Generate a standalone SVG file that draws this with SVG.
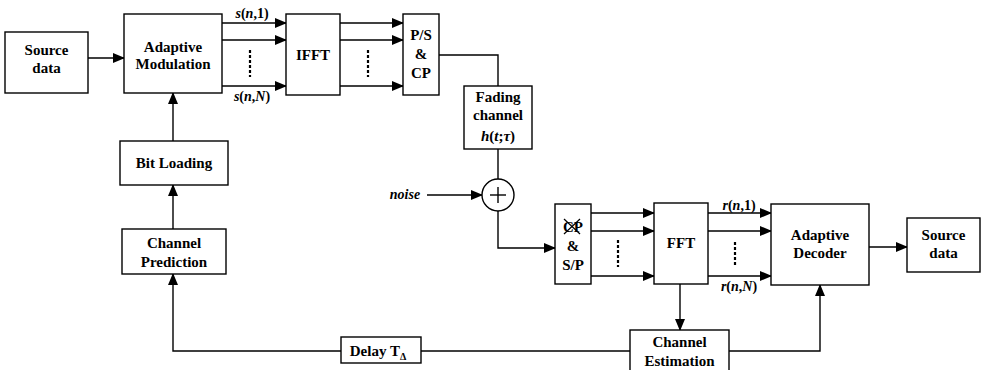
<svg xmlns="http://www.w3.org/2000/svg" width="983" height="370" viewBox="0 0 983 370">
<style>
.box{fill:#fff;stroke:#000;stroke-width:1.4}
.t{font-family:'Liberation Serif','DejaVu Serif','Times New Roman',serif;font-weight:700;font-size:15px;text-anchor:middle;fill:#000}
.lb{font-family:'Liberation Serif','DejaVu Serif','Times New Roman',serif;font-weight:700;font-size:14px;text-anchor:middle;fill:#000}
.ln{fill:none;stroke:#000;stroke-width:1.4}
.dot{fill:none;stroke:#000;stroke-width:2.2;stroke-dasharray:3 2}
</style>
<defs>
<marker id="ar" markerWidth="12" markerHeight="10" refX="11" refY="5" orient="auto" markerUnits="userSpaceOnUse">
<path d="M0,0 L12,5 L0,10 Z" fill="#000"/>
</marker>
</defs>
<rect width="983" height="370" fill="#fff"/>
<g id="connectors">
<line class="ln" x1="88" y1="58" x2="124" y2="58" marker-end="url(#ar)"/>
<line class="ln" x1="222" y1="23" x2="286" y2="23" marker-end="url(#ar)"/>
<line class="ln" x1="222" y1="40" x2="286" y2="40" marker-end="url(#ar)"/>
<line class="ln" x1="222" y1="86" x2="286" y2="86" marker-end="url(#ar)"/>
<line class="dot" x1="250" y1="50" x2="250" y2="77"/>
<line class="ln" x1="340" y1="23" x2="403" y2="23" marker-end="url(#ar)"/>
<line class="ln" x1="340" y1="40" x2="403" y2="40" marker-end="url(#ar)"/>
<line class="ln" x1="340" y1="86" x2="403" y2="86" marker-end="url(#ar)"/>
<line class="dot" x1="368" y1="50" x2="368" y2="77"/>
<polyline class="ln" points="439,55 498,55 498,86"/>
<line class="ln" x1="498" y1="149" x2="498" y2="179"/>
<line class="ln" x1="427" y1="195" x2="482" y2="195" marker-end="url(#ar)"/>
<polyline class="ln" points="498,211 498,248 555,248" marker-end="url(#ar)"/>
<line class="ln" x1="591" y1="213" x2="654" y2="213" marker-end="url(#ar)"/>
<line class="ln" x1="591" y1="231" x2="654" y2="231" marker-end="url(#ar)"/>
<line class="ln" x1="591" y1="276" x2="654" y2="276" marker-end="url(#ar)"/>
<line class="dot" x1="618" y1="240" x2="618" y2="267"/>
<line class="ln" x1="708" y1="213" x2="771" y2="213" marker-end="url(#ar)"/>
<line class="ln" x1="708" y1="231" x2="771" y2="231" marker-end="url(#ar)"/>
<line class="ln" x1="708" y1="276" x2="771" y2="276" marker-end="url(#ar)"/>
<line class="dot" x1="735" y1="242" x2="735" y2="267"/>
<line class="ln" x1="869" y1="247" x2="907" y2="247" marker-end="url(#ar)"/>
<line class="ln" x1="680" y1="284" x2="680" y2="330" marker-end="url(#ar)"/>
<polyline class="ln" points="729,351 820,351 820,285" marker-end="url(#ar)"/>
<line class="ln" x1="630" y1="351" x2="421" y2="351"/>
<polyline class="ln" points="341,351 173,351 173,274" marker-end="url(#ar)"/>
<line class="ln" x1="173" y1="229" x2="173" y2="185" marker-end="url(#ar)"/>
<line class="ln" x1="173" y1="141" x2="173" y2="93" marker-end="url(#ar)"/>
<text class="lb" x="252" y="18"><tspan font-style="italic">s</tspan>(<tspan font-style="italic">n</tspan>,1)</text>
<text class="lb" x="252" y="101"><tspan font-style="italic">s</tspan>(<tspan font-style="italic">n</tspan>,<tspan font-style="italic">N</tspan>)</text>
<text class="lb" x="739" y="210"><tspan font-style="italic">r</tspan>(<tspan font-style="italic">n</tspan>,1)</text>
<text class="lb" x="739" y="291"><tspan font-style="italic">r</tspan>(<tspan font-style="italic">n</tspan>,<tspan font-style="italic">N</tspan>)</text>
<text class="lb" x="405" y="199" font-style="italic">noise</text>
</g>
<g id="source-tx">
<rect class="box" x="5" y="32" width="83" height="61"/>
<text class="t" x="46.5" y="55">Source</text>
<text class="t" x="46.5" y="73">data</text>
</g>
<g id="adaptive-modulation">
<rect class="box" x="124" y="14" width="98" height="79"/>
<text class="t" x="173" y="52">Adaptive</text>
<text class="t" x="173" y="69">Modulation</text>
</g>
<g id="ifft">
<rect class="box" x="286" y="14" width="54" height="81"/>
<text class="t" x="313" y="60">IFFT</text>
</g>
<g id="ps-cp">
<rect class="box" x="403" y="14" width="36" height="81"/>
<text class="t" x="421" y="40">P/S</text>
<text class="t" x="421" y="59">&amp;</text>
<text class="t" x="421" y="78">CP</text>
</g>
<g id="fading-channel">
<rect class="box" x="464" y="86" width="68" height="63"/>
<text class="t" x="498" y="102">Fading</text>
<text class="t" x="498" y="120">channel</text>
<text class="t" x="498" y="141"><tspan font-style="italic">h</tspan>(<tspan font-style="italic">t</tspan>;<tspan font-style="italic">τ</tspan>)</text>
</g>
<g id="sum">
<circle cx="498" cy="195" r="16" fill="#fff" stroke="#000" stroke-width="1.4"/>
<line class="ln" x1="490" y1="195" x2="506" y2="195"/>
<line class="ln" x1="498" y1="187" x2="498" y2="203"/>
</g>
<g id="cp-sp">
<rect class="box" x="555" y="204" width="36" height="80"/>
<text class="t" x="573" y="232">CP</text>
<line x1="564" y1="219" x2="580" y2="234" stroke="#000" stroke-width="1.2"/>
<line x1="580" y1="219" x2="564" y2="234" stroke="#000" stroke-width="1.2"/>
<text class="t" x="573" y="251">&amp;</text>
<text class="t" x="573" y="270">S/P</text>
</g>
<g id="fft">
<rect class="box" x="654" y="203" width="54" height="81"/>
<text class="t" x="681" y="248">FFT</text>
</g>
<g id="adaptive-decoder">
<rect class="box" x="771" y="204" width="98" height="81"/>
<text class="t" x="820" y="240">Adaptive</text>
<text class="t" x="820" y="258">Decoder</text>
</g>
<g id="source-rx">
<rect class="box" x="907" y="218" width="73" height="54"/>
<text class="t" x="943.5" y="240">Source</text>
<text class="t" x="943.5" y="258">data</text>
</g>
<g id="bit-loading">
<rect class="box" x="120" y="141" width="108" height="44"/>
<text class="t" x="174" y="168">Bit Loading</text>
</g>
<g id="channel-prediction">
<rect class="box" x="122" y="229" width="104" height="45"/>
<text class="t" x="174" y="248">Channel</text>
<text class="t" x="174" y="267">Prediction</text>
</g>
<g id="delay">
<rect class="box" x="341" y="337" width="80" height="26"/>
<text class="t" x="378" y="356">Delay T<tspan font-size="10" dy="4">Δ</tspan></text>
</g>
<g id="channel-estimation">
<rect class="box" x="630" y="330" width="99" height="45"/>
<text class="t" x="679.5" y="347">Channel</text>
<text class="t" x="679.5" y="366">Estimation</text>
</g>
</svg>
